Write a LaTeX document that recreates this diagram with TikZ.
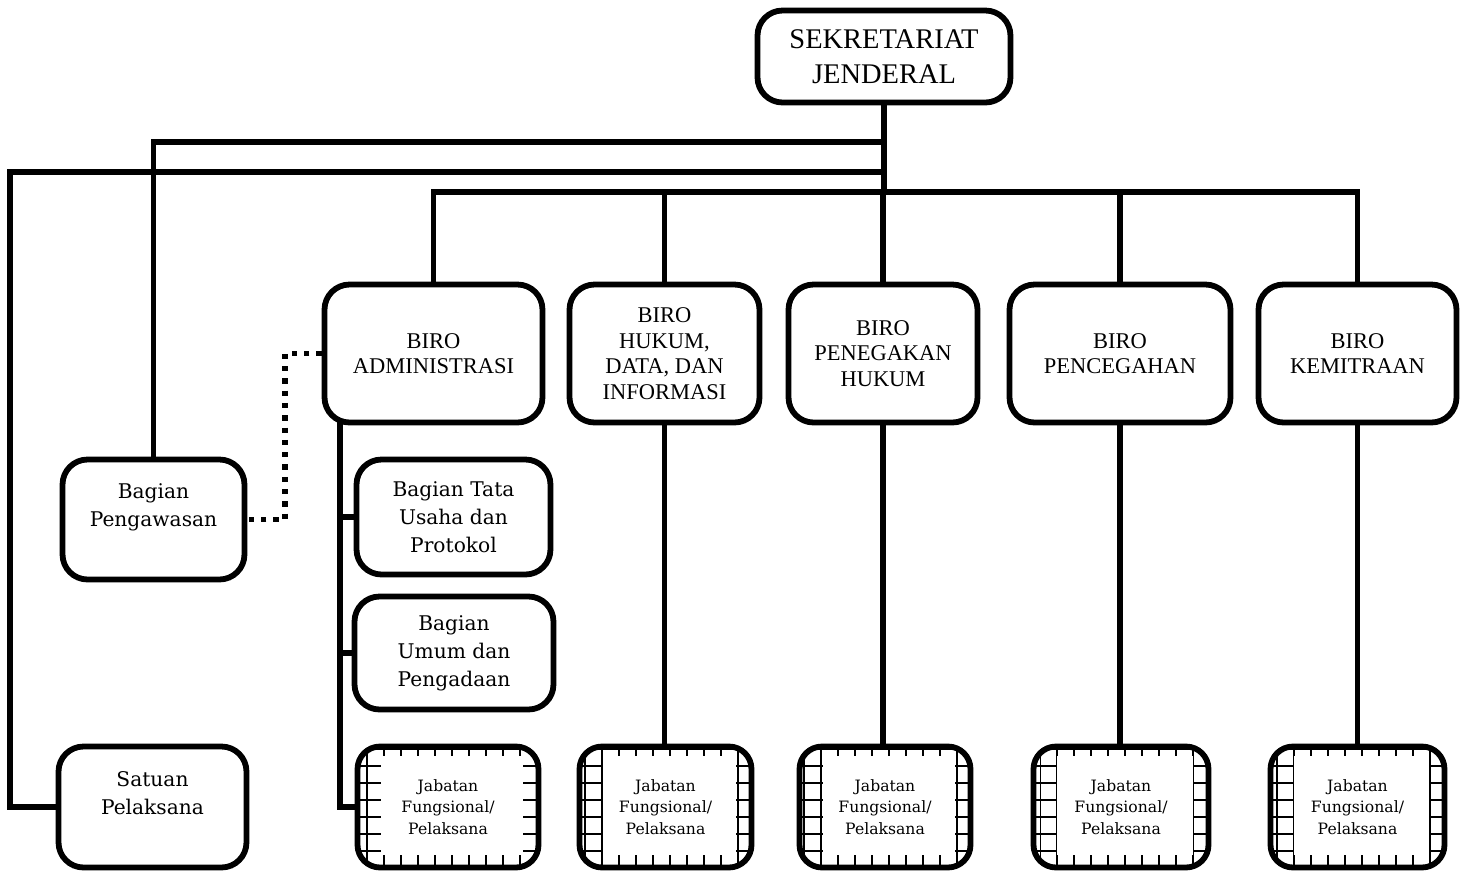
\documentclass[tikz,border=0pt]{standalone}
\usepackage{fontspec}
\setmainfont{DejaVu Serif}
\newfontfamily\capsfont{Liberation Serif}
\usetikzlibrary{backgrounds}

\tikzset{
  unitbox/.style={draw, line width=3.3pt, rounded corners=0.5cm, fill=white, align=center, inner sep=0pt},
  birobox/.style={unitbox, minimum height=2.76cm, font=\capsfont\fontsize{12.8}{14.5}\selectfont},
  subbox/.style={unitbox, font=\fontsize{11.5}{16}\selectfont},
  jabbox/.style={unitbox, rounded corners=0.45cm, minimum height=2.42cm,
    font=\fontsize{8.9}{12.2}\selectfont,
    path picture={
      \draw[line width=1.1pt, sharp corners] (path picture bounding box.south west) grid[step=0.34cm] (path picture bounding box.north east);
      \fill[white, sharp corners] ([xshift=0.47cm,yshift=0.25cm]path picture bounding box.south west)
        rectangle ([xshift=-0.31cm,yshift=-0.19cm]path picture bounding box.north east);
    }},
  link/.style={line width=3.1pt},
  dotlink/.style={line width=3.1pt, dash pattern=on 3pt off 4pt},
}

\begin{document}
\begin{tikzpicture}[x=0.02cm, y=-0.02cm]

    \useasboundingbox (0,0) rectangle (1471,873);

    % top
    \node[unitbox, minimum width=5.06cm, minimum height=1.84cm,
      font=\capsfont\fontsize{16.2}{20}\selectfont] (sekjen) at (884,56.5) {SEKRETARIAT\\JENDERAL};

    % biro row
    \node[birobox, minimum width=4.36cm] (badm) at (433.5,353.5) {BIRO\\ADMINISTRASI};
    \node[birobox, minimum width=3.8cm] (bhuk) at (664.5,353.5) {BIRO\\HUKUM,\\DATA, DAN\\INFORMASI};
    \node[birobox, minimum width=3.78cm] (bgak) at (883,353.5) {BIRO\\PENEGAKAN\\HUKUM};
    \node[birobox, minimum width=4.42cm] (bcgh) at (1120,353.5) {BIRO\\PENCEGAHAN};
    \node[birobox, minimum width=3.96cm] (bmtr) at (1357.5,353.5) {BIRO\\KEMITRAAN};

    % bagian
    \node[subbox, minimum width=3.64cm, minimum height=2.4cm] (pengawasan) at (153.5,519.5) {Bagian\\Pengawasan\\ \mbox{}};
    \node[subbox, minimum width=3.76cm, minimum height=2.42cm] (satuan) at (152.5,807) {Satuan\\Pelaksana\\ \mbox{}};
    \node[subbox, minimum width=3.88cm, minimum height=2.3cm] (tusaha) at (453.5,517) {Bagian Tata\\Usaha dan\\Protokol};
    \node[subbox, minimum width=3.98cm, minimum height=2.26cm] (umum) at (454,653) {Bagian\\Umum dan\\Pengadaan};

    % jabatan fungsional
    \foreach \n/\x/\w in {jab1/448/3.62, jab2/665.5/3.44, jab3/885/3.42, jab4/1121/3.5, jab5/1357.5/3.48}
      \node[jabbox, minimum width=\w cm] (\n) at (\x,807) {Jabatan\\Fungsional/\\Pelaksana};

    % lines
    \coordinate (hA) at (884,142);
    \coordinate (hB) at (884,172);
    \coordinate (hC) at (884,192);
    \coordinate (railL) at (10,172);
    \coordinate (railA) at (340,400);
    \coordinate (dotbend) at (285,353.5);

    \begin{scope}[on background layer]
      \draw[link] (sekjen) -- (hC);
      \draw[link] (hA) -| (pengawasan);
      \draw[link] (hB) -- (railL) |- (satuan);
      \draw[link] (badm) |- (hC) -| (bmtr);
      \foreach \b in {bhuk, bgak, bcgh}
        \draw[link] (\b) -- (\b |- hC);
      \draw[link] (railA) |- (jab1);
      \draw[link] (railA |- tusaha) -- (tusaha);
      \draw[link] (railA |- umum) -- (umum);
      \foreach \b/\j in {bhuk/jab2, bgak/jab3, bcgh/jab4, bmtr/jab5}
        \draw[link] (\b) -- (\b |- \j);
    \end{scope}

    \draw[dotlink] (badm.west) -- (dotbend) |- (pengawasan.east);

\end{tikzpicture}
\end{document}
